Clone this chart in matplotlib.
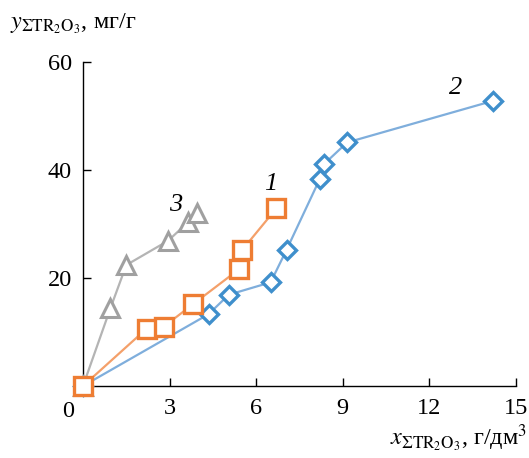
import matplotlib
matplotlib.use("Agg")
import matplotlib.pyplot as plt

plt.rcParams['font.family'] = ['Liberation Serif', 'DejaVu Serif']
plt.rcParams['mathtext.fontset'] = 'stix'

# Series 1 (orange squares)
x1 = [0.0, 2.2, 2.8, 3.8, 5.4, 5.5, 6.7]
y1 = [0.0, 10.6, 11.0, 15.1, 21.6, 25.1, 32.9]
# Series 2 (blue diamonds)
x2 = [0.0, 4.35, 5.05, 6.5, 7.05, 8.2, 8.35, 9.15, 14.2]
y2 = [0.0, 13.3, 16.9, 19.2, 25.2, 38.3, 41.1, 45.1, 52.8]
# Series 3 (gray triangles)
x3 = [0.0, 0.95, 1.5, 2.95, 3.65, 3.95]
y3 = [0.0, 14.4, 22.4, 26.9, 30.4, 32.0]

xticks = [3, 6, 9, 12, 15]
yticks = [20, 40, 60]

fig = plt.figure(figsize=(5.29, 4.58), dpi=100)
ax = fig.add_axes([83/529, 1-386/458, (516-83)/529, (386-62)/458])

c1, l1 = '#EE7D33', '#F4A06A'
c2, l2 = '#3F8FCC', '#7FAEDC'
c3, l3 = '#A0A0A0', '#B4B4B4'

ax.plot(x3, y3, color=l3, lw=1.6, zorder=2, clip_on=False)
ax.plot(x3, y3, ls='none', marker='^', ms=13, mfc='white', mec=c3, mew=2.2, zorder=3, clip_on=False)
ax.plot(x2, y2, color=l2, lw=1.6, zorder=2, clip_on=False)
ax.plot(x2, y2, ls='none', marker='D', ms=9.5, mfc='white', mec=c2, mew=2.4, zorder=3, clip_on=False)
ax.plot(x1, y1, color=l1, lw=1.6, zorder=2, clip_on=False)
ax.plot(x1, y1, ls='none', marker='s', ms=12.5, mfc='white', mec=c1, mew=2.4, zorder=4, clip_on=False)

ax.set_xlim(0, 15)
ax.set_ylim(0, 60)
ax.set_xticks(xticks)
ax.set_yticks(yticks)
ax.tick_params(direction='in', length=6, width=1, labelsize=17.5, pad=9)
ax.tick_params(axis='y', pad=8)
for s in ['top', 'right']:
    ax.spines[s].set_visible(False)
for s in ['left', 'bottom']:
    ax.spines[s].set_linewidth(1)

ax.text(-0.035, -0.045, '0', transform=ax.transAxes, fontsize=17.5, ha='center', va='top')

ax.text(6.5, 37.4, '1', fontsize=19, style='italic', ha='center', va='center')
ax.text(12.9, 55.2, '2', fontsize=19, style='italic', ha='center', va='center')
ax.text(3.2, 33.6, '3', fontsize=19, style='italic', ha='center', va='center')

fig.text(10/529, 1-24/458, r'$y_{\Sigma\mathrm{TR}_2\mathrm{O}_3}$, мг/г', fontsize=17.5, ha='left', va='center')
fig.text(527/529, 1-438/458, r'$x_{\Sigma\mathrm{TR}_2\mathrm{O}_3}$, г/дм$^3$', fontsize=17.5, ha='right', va='center')

fig.savefig('out.png', dpi=100)
